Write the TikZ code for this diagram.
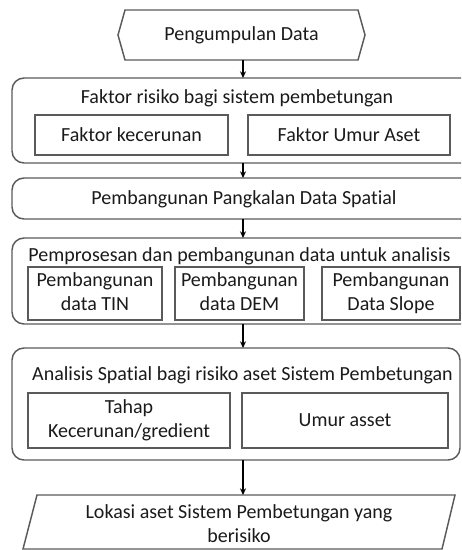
\documentclass[tikz,border=0pt]{standalone}
\usepackage{fontspec}
\setmainfont{Carlito}[Ligatures=NoCommon]
\usetikzlibrary{arrows.meta}
\definecolor{linec}{HTML}{5A5A5A}
\definecolor{txtc}{HTML}{1A1A1A}
\begin{document}
\begin{tikzpicture}[x=0.75pt,y=-0.75pt,
  every node/.style={text=txtc, font=\fontsize{15}{18}\selectfont, outer sep=0pt, inner sep=0pt, align=center},
  outerbox/.style={draw=linec, line width=1.1pt, rounded corners=9pt},
  innerbox/.style={draw=linec, line width=1.1pt},
  arr/.style={draw=black, line width=0.9pt, -{Stealth[length=5pt,width=4.5pt]}}]
\useasboundingbox (0,0) rectangle (461,550);
\clip (0,0) rectangle (461,550);
\coordinate (ax) at (243,0);
% hexagon
\node[minimum width=247*0.75pt, minimum height=50*0.75pt] (hex) at (241.5,35) {Pengumpulan Data};
\draw[draw=linec, line width=1.1pt] (hex.west) -- ([xshift=7*0.75pt]hex.north west) -- ([xshift=-7*0.75pt]hex.north east) -- (hex.east) -- ([xshift=-7*0.75pt]hex.south east) -- ([xshift=7*0.75pt]hex.south west) -- cycle;
% box 1
\node[outerbox, minimum width=463*0.75pt, minimum height=85*0.75pt] (b1) at (243.5,120.5) {};
\node (t1) at (237,98) {Faktor risiko bagi sistem pembetungan};
\node[innerbox, minimum width=193*0.75pt, minimum height=40*0.75pt] (k1) at (131.5,135) {Faktor kecerunan};
\node[innerbox, minimum width=202*0.75pt, minimum height=40*0.75pt] (k2) at (349,135) {Faktor Umur Aset};
% box 2
\node[outerbox, minimum width=463*0.75pt, minimum height=41*0.75pt] (b2) at (243.5,198.5) {};
\node (t2) at (244,199) {Pembangunan Pangkalan Data Spatial};
% box 3
\node[outerbox, minimum width=463*0.75pt, minimum height=86*0.75pt] (b3) at (243.5,281) {};
\node (t3) at (239.5,256) {Pemprosesan dan pembangunan data untuk analisis};
\node[innerbox, minimum width=134*0.75pt, minimum height=53*0.75pt] (p1) at (95,293.5) {\strut Pembangunan\\\strut data TIN};
\node[innerbox, minimum width=129*0.75pt, minimum height=53*0.75pt] (p2) at (239.5,293.5) {\strut Pembangunan\\\strut data DEM};
\node[innerbox, minimum width=138*0.75pt, minimum height=53*0.75pt] (p3) at (391,293.5) {\strut Pembangunan\\\strut Data Slope};
% box 4
\node[outerbox, minimum width=448*0.75pt, minimum height=112*0.75pt] (b4) at (236,404) {};
\node (t4) at (242.5,375) {Analisis Spatial bagi risiko aset Sistem Pembetungan};
\node[innerbox, minimum width=202*0.75pt, minimum height=55*0.75pt] (a1) at (129,420.5) {\strut Tahap\\\strut Kecerunan/gredient};
\node[innerbox, minimum width=206*0.75pt, minimum height=55*0.75pt] (a2) at (345,420.5) {Umur asset};
% parallelogram
\coordinate (ptop) at (243,495);
\node (para) at (239,526) {\strut Lokasi aset Sistem Pembetungan yang\\\strut berisiko};
\draw[draw=linec, line width=1.1pt] (37,495) -- (455,495) -- (442,549) -- (23,549) -- cycle;
% arrows
\draw[arr] (hex.south -| ax) -- (b1.north -| ax);
\draw[arr] (b1.south -| ax) -- (b2.north -| ax);
\draw[arr] (b2.south -| ax) -- (b3.north -| ax);
\draw[arr] (b3.south -| ax) -- (b4.north -| ax);
\draw[arr] (b4.south -| ax) -- (ptop);
\end{tikzpicture}
\end{document}
